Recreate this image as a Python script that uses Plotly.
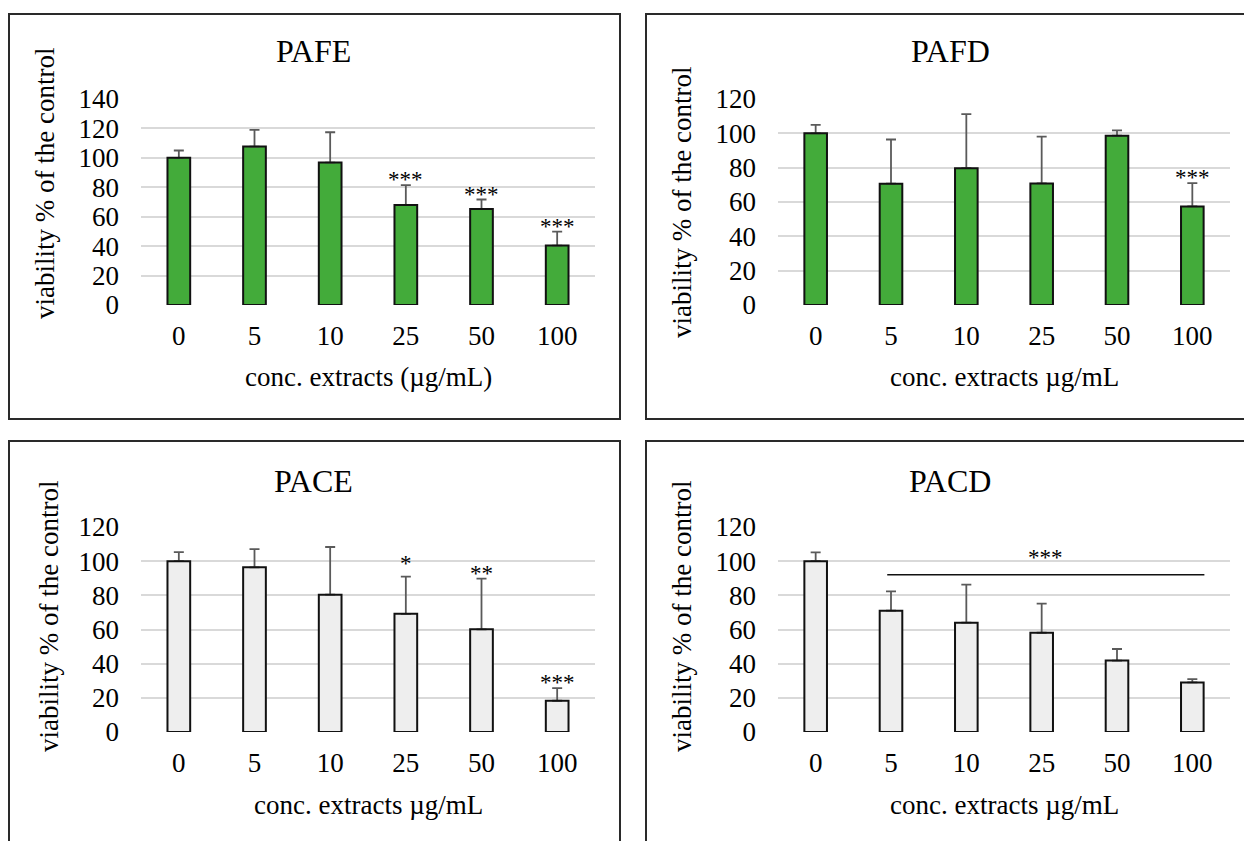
import plotly.graph_objects as go

# ---------------- data ----------------
categories = ["0", "5", "10", "25", "50", "100"]

pafe_mean = [100, 107.7, 96.8, 67.9, 65.2, 40.4]
pafe_err = [5.0, 11.3, 20.6, 13.6, 6.5, 9.5]
pafe_sig = ["", "", "", "***", "***", "***"]

pafd_mean = [100, 70.7, 79.7, 70.8, 98.6, 57.4]
pafd_err = [4.9, 25.7, 31.5, 27.3, 3.1, 13.6]
pafd_sig = ["", "", "", "", "", "***"]

pace_mean = [100, 96.4, 80.4, 69.2, 60.1, 18.3]
pace_err = [5.3, 10.7, 27.9, 21.8, 29.7, 7.4]
pace_sig = ["", "", "", "*", "**", "***"]

pacd_mean = [100, 71.0, 64.0, 58.1, 41.8, 29.0]
pacd_err = [5.2, 11.3, 22.3, 17.0, 6.8, 1.9]
pacd_sig = ["", "", "", "", "", ""]
pacd_group_label = "***"
pacd_group_value = 92
pacd_group_from = "5"
pacd_group_to = "100"

titles = ["PAFE", "PAFD", "PACE", "PACD"]
x_titles = ["conc. extracts (µg/mL)", "conc. extracts µg/mL",
            "conc. extracts µg/mL", "conc. extracts µg/mL"]
y_title = "viability % of the control"
y_max = [140, 120, 120, 120]

# ---------------- style / layout ----------------
W, H = 1244, 841
FONT = "Liberation Serif, Times New Roman, serif"
GREEN = "#43AB3A"
LIGHT = "#EEEEEE"
ERRC = "#5A5A5A"
GRID = "#D9D9D9"
STAR_SHIFT = {"*": -1, "**": -9, "***": -9}


def fx(p):
    return p / W


def fy(p):
    return 1 - p / H


panels = [
    dict(xd=(141, 595), yd=(99, 305), color=GREEN, mean=pafe_mean, err=pafe_err, sig=pafe_sig,
         frame=(9, 14, 620, 419), title=(314, 51), xt=(368, 377), yt=(45, 184)),
    dict(xd=(778, 1230), yd=(99, 305), color=GREEN, mean=pafd_mean, err=pafd_err, sig=pafd_sig,
         frame=(646, 14, 1262, 419), title=(950, 51), xt=(1004, 377), yt=(682, 203)),
    dict(xd=(141, 595), yd=(527, 732), color=LIGHT, mean=pace_mean, err=pace_err, sig=pace_sig,
         frame=(9, 441, 620, 862), title=(314, 481), xt=(368, 805), yt=(49, 617)),
    dict(xd=(778, 1230), yd=(527, 732), color=LIGHT, mean=pacd_mean, err=pacd_err, sig=pacd_sig,
         frame=(646, 441, 1262, 862), title=(950, 481), xt=(1004, 805), yt=(682, 617)),
]

fig = go.Figure()
annotations = []
shapes = []
layout = {}

for i, p in enumerate(panels):
    n = "" if i == 0 else str(i + 1)
    xa, ya = "x" + n, "y" + n
    # filled bars with error bars
    fig.add_trace(go.Bar(
        x=categories, y=p["mean"], xaxis=xa, yaxis=ya, width=0.3,
        marker=dict(color=p["color"], line=dict(width=0)),
        error_y=dict(type="data", symmetric=False, array=p["err"],
                     arrayminus=[0] * len(p["err"]), color=ERRC,
                     thickness=1.8, width=5),
        showlegend=False, hoverinfo="skip"))
    # outlines drawn on top (cover the lower error caps)
    fig.add_trace(go.Bar(
        x=categories, y=p["mean"], xaxis=xa, yaxis=ya, width=0.3,
        marker=dict(color="rgba(0,0,0,0)", line=dict(color="#111111", width=2)),
        showlegend=False, hoverinfo="skip"))

    layout["xaxis" + n] = dict(
        domain=[fx(p["xd"][0]), fx(p["xd"][1])], anchor=ya,
        type="category", range=[-0.5, len(categories) - 0.5],
        showgrid=False, showline=False, zeroline=False, ticks="",
        tickfont=dict(family=FONT, size=27, color="black"),
        ticklabelstandoff=12, automargin=False, fixedrange=True)
    layout["yaxis" + n] = dict(
        domain=[fy(p["yd"][1]), fy(p["yd"][0])], anchor=xa,
        range=[0, y_max[i]], dtick=20, showgrid=True, gridcolor=GRID,
        gridwidth=1.6, showline=False, zeroline=False, ticks="",
        tickfont=dict(family=FONT, size=27, color="black"),
        ticklabelstandoff=21, automargin=False, fixedrange=True)

    # significance stars
    for k, (m, e, s) in enumerate(zip(p["mean"], p["err"], p["sig"])):
        if s:
            annotations.append(dict(
                x=k, y=m + e, xref=xa, yref=ya, text=s, showarrow=False,
                xanchor="center", yanchor="bottom", yshift=STAR_SHIFT[s],
                font=dict(family=FONT, size=23, color="black")))

    # frame
    x0, y0, x1, y1 = p["frame"]
    shapes.append(dict(type="rect", xref="paper", yref="paper",
                       x0=fx(x0), x1=fx(x1), y0=fy(y1), y1=fy(y0),
                       line=dict(color="#2A2A2A", width=2), layer="below"))
    # titles
    annotations.append(dict(x=fx(p["title"][0]), y=fy(p["title"][1]), xref="paper", yref="paper",
                            text=titles[i], showarrow=False, xanchor="center", yanchor="middle",
                            font=dict(family=FONT, size=32, color="black")))
    annotations.append(dict(x=fx(p["xt"][0]), y=fy(p["xt"][1]), xref="paper", yref="paper",
                            text=x_titles[i], showarrow=False, xanchor="center", yanchor="middle",
                            font=dict(family=FONT, size=27, color="black")))
    annotations.append(dict(x=fx(p["yt"][0]), y=fy(p["yt"][1]), xref="paper", yref="paper",
                            text=y_title, showarrow=False, xanchor="center", yanchor="middle",
                            textangle=-90, font=dict(family=FONT, size=27, color="black")))

# PACD group significance line
i_from = categories.index(pacd_group_from) - 0.05
i_to = categories.index(pacd_group_to) + 0.16
shapes.append(dict(type="line", xref="x4", yref="y4", x0=i_from, x1=i_to,
                   y0=pacd_group_value, y1=pacd_group_value,
                   line=dict(color="#111111", width=1.5)))
annotations.append(dict(x=(i_from + i_to) / 2, y=pacd_group_value, xref="x4", yref="y4",
                        text=pacd_group_label, showarrow=False, xanchor="center",
                        yanchor="bottom", yshift=3,
                        font=dict(family=FONT, size=23, color="black")))

fig.update_layout(
    width=W, height=H, margin=dict(l=0, r=0, t=0, b=0, autoexpand=False),
    paper_bgcolor="white", plot_bgcolor="rgba(0,0,0,0)",
    barmode="overlay", showlegend=False,
    annotations=annotations, shapes=shapes, **layout)

fig.write_html("out.html")
